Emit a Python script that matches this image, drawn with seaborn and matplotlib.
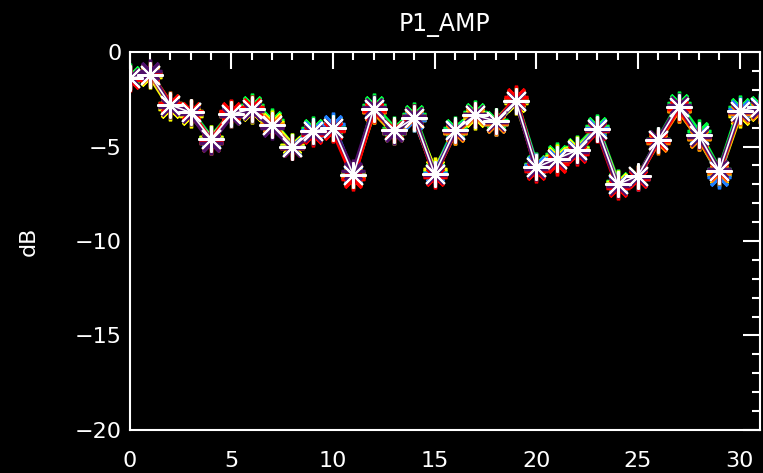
import numpy as np
import pandas as pd
import matplotlib
matplotlib.use('Agg')
import matplotlib.pyplot as plt
import seaborn as sns
from matplotlib.ticker import MultipleLocator

# channel index 0..31 and the amplitude of each trace in dB
channel = list(range(32))
amp_red = [-1.5, -1.1, -2.7, -3.1, -4.7, -3.1, -2.9, -3.9, -5.1, -4.4, -4.2, -6.7, -3.1, -4.1, -3.4, -6.6,
           -4.2, -3.3, -3.7, -2.4, -6.3, -5.9, -5.4, -4.2, -7.2, -6.7, -4.7, -3.0, -4.5, -6.3, -3.2, -3.0]
amp_orange = [-1.4, -1.2, -2.8, -3.2, -4.8, -3.2, -3.0, -3.8, -5.1, -4.3, -4.1, -6.6, -3.2, -4.2, -3.5, -6.5,
              -4.3, -3.4, -3.8, -2.5, -6.2, -5.8, -5.3, -4.1, -7.1, -6.6, -4.8, -3.1, -4.6, -6.4, -3.3, -3.1]
amp_yellow = [-1.3, -1.3, -3.0, -3.4, -4.5, -3.4, -3.2, -3.7, -4.9, -4.3, -4.1, -6.4, -3.2, -4.3, -3.6, -6.2,
              -4.3, -3.5, -3.8, -2.7, -6.0, -5.5, -5.1, -4.0, -6.9, -6.6, -4.7, -3.1, -4.6, -6.5, -3.4, -3.2]
amp_green = [-1.2, -1.1, -2.7, -3.1, -4.5, -3.2, -2.8, -3.6, -4.9, -4.0, -3.9, -6.6, -2.8, -4.0, -3.3, -6.3,
             -4.0, -3.2, -3.6, -2.5, -5.9, -5.4, -5.0, -3.9, -6.8, -6.6, -4.6, -2.7, -4.2, -6.2, -2.9, -2.8]
amp_blue = [-1.4, -1.2, -2.8, -3.2, -4.6, -3.3, -3.0, -3.9, -5.0, -4.1, -3.8, -6.5, -3.0, -4.2, -3.6, -6.4,
            -4.1, -3.4, -3.8, -2.6, -6.0, -5.6, -5.2, -4.0, -7.0, -6.7, -4.7, -2.9, -4.4, -6.6, -3.0, -2.9]
amp_purple = [-1.3, -1.0, -2.9, -3.3, -4.8, -3.4, -3.1, -4.0, -5.1, -4.3, -4.0, -6.3, -2.9, -4.3, -3.4, -6.5,
              -4.2, -3.3, -3.7, -2.6, -6.2, -5.7, -5.3, -4.1, -7.1, -6.6, -4.6, -2.8, -4.5, -6.2, -3.2, -3.0]
amp_white = [-1.4, -1.2, -2.8, -3.2, -4.6, -3.3, -3.0, -3.85, -5.0, -4.2, -4.0, -6.5, -3.0, -4.15, -3.5, -6.45,
             -4.15, -3.35, -3.65, -2.6, -6.1, -5.65, -5.2, -4.05, -7.0, -6.55, -4.65, -2.9, -4.4, -6.3, -3.1, -2.9]

traces = {'green': amp_green, 'yellow': amp_yellow, 'blue': amp_blue, 'orange': amp_orange,
          'red': amp_red, 'purple': amp_purple, 'white': amp_white}
colors = {'red': '#ff0000', 'orange': '#ff8000', 'yellow': '#ffff00', 'green': '#00ff40',
          'blue': '#2080ff', 'purple': '#50106a', 'white': '#ffffff'}

df = pd.concat([pd.DataFrame({'ch': channel, 'dB': v, 'trace': k}) for k, v in traces.items()])

sns.set_style('dark')
plt.rcParams['font.family'] = ['DejaVu Sans']

fig = plt.figure(figsize=(7.63, 4.73), dpi=100, facecolor='black')
ax = fig.add_axes([0.170, 0.091, 0.826, 0.799])
ax.set_facecolor('black')

sns.lineplot(data=df, x='ch', y='dB', hue='trace', palette=colors, hue_order=list(traces),
             marker=(8, 2, 0), markersize=17, markeredgewidth=2.4, linewidth=3.0,
             legend=False, ax=ax)
# seaborn paints marker edges white; give each asterisk its own trace colour
for line in ax.get_lines():
    line.set_markeredgecolor(line.get_color())
    if line.get_color() == '#ffffff':
        line.set_zorder(5)
        line.set_linewidth(1.2)
        line.set_markersize(19)
        line.set_markeredgewidth(1.5)

ax.set_xlim(0, 31)
ax.set_ylim(-20, 0)
ax.xaxis.set_major_locator(MultipleLocator(5))
ax.xaxis.set_minor_locator(MultipleLocator(1))
ax.yaxis.set_major_locator(MultipleLocator(5))
ax.yaxis.set_minor_locator(MultipleLocator(1))
ax.tick_params(which='both', direction='in', colors='white', top=True, right=True,
               labelsize=16, width=1.5)
ax.tick_params(which='major', length=12)
ax.tick_params(axis='x', which='major', pad=15)
ax.tick_params(axis='y', which='major', pad=6)
ax.tick_params(which='minor', length=6)
ax.grid(False)
for s in ax.spines.values():
    s.set_color('white')
    s.set_linewidth(1.5)

ax.set_xlabel('')
ax.set_ylabel('dB', color='white', fontsize=16, labelpad=26)
ax.set_title('P1_AMP', color='white', fontsize=17, pad=15)

fig.savefig('out.png', dpi=100, facecolor='black')
